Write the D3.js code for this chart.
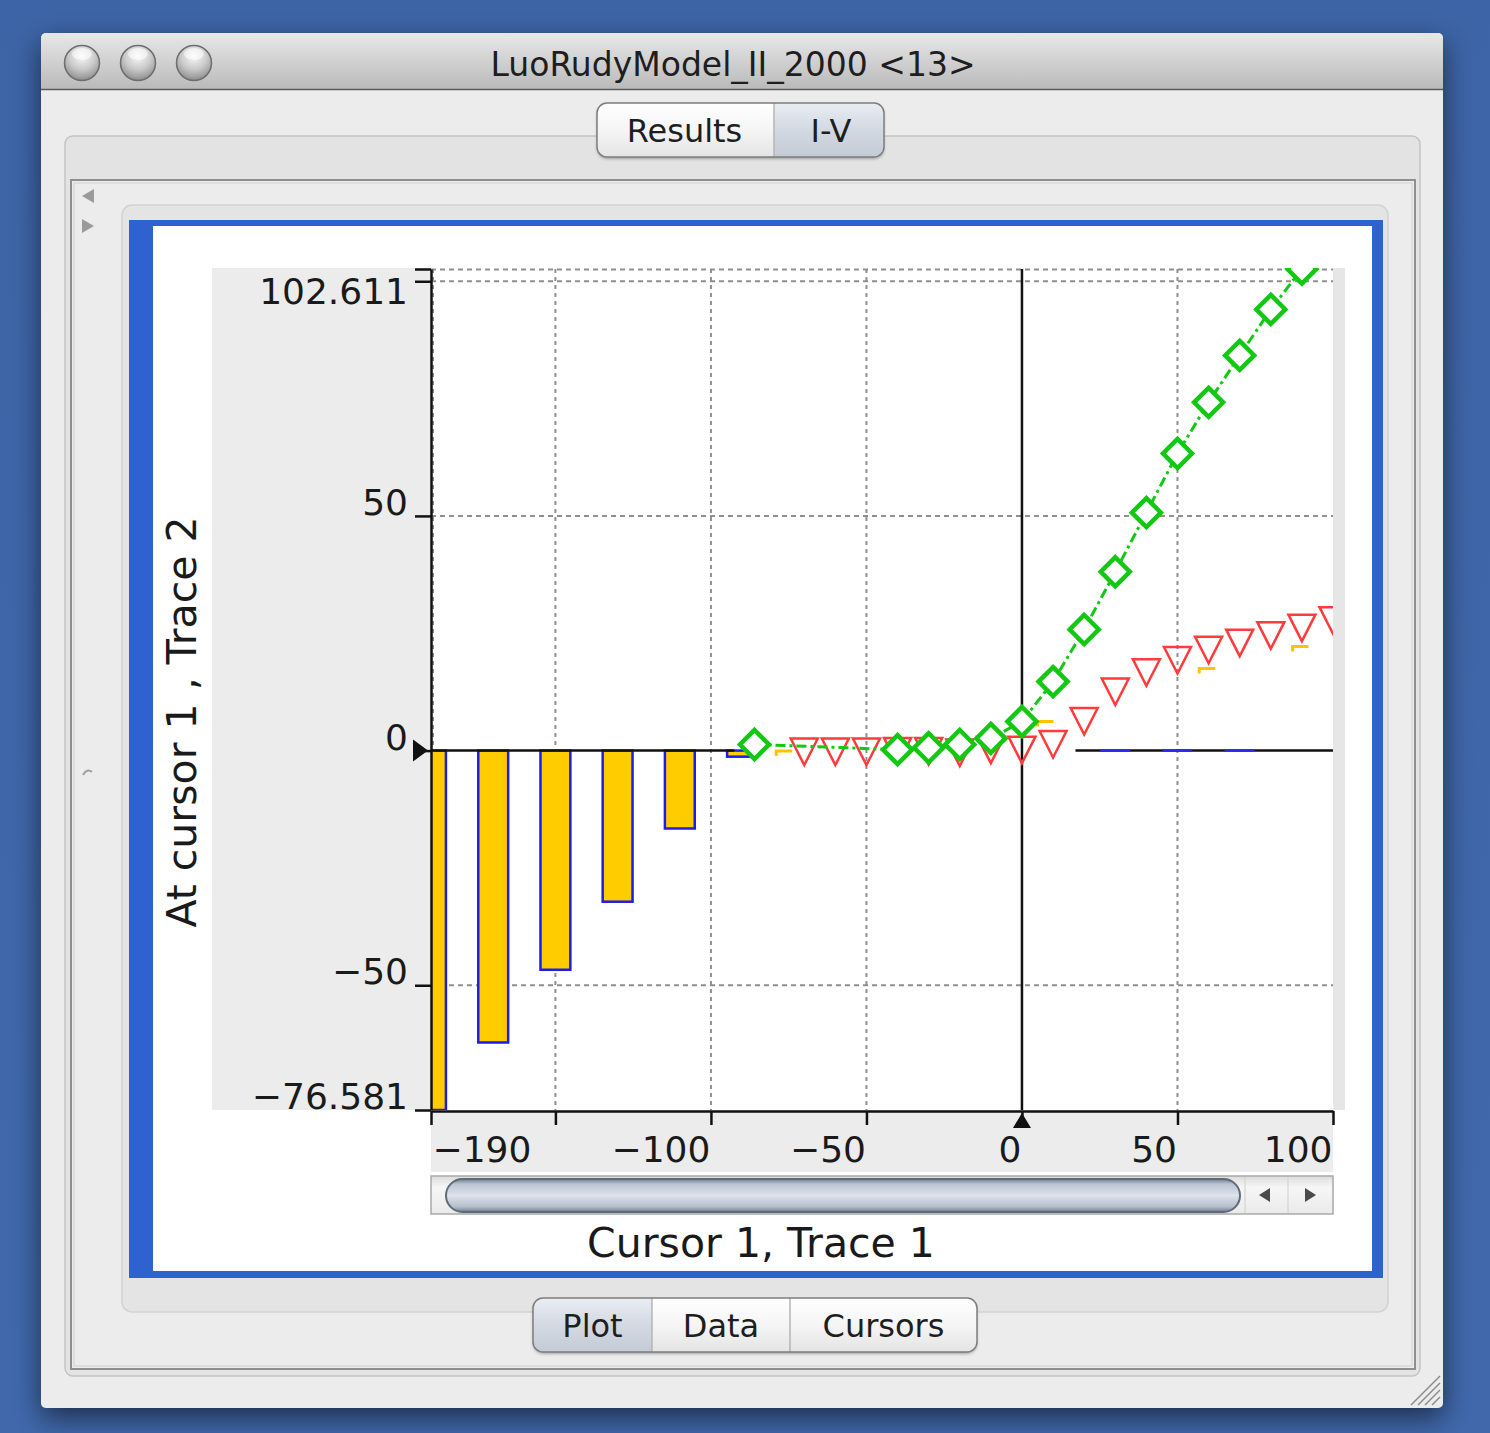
<!DOCTYPE html>
<html>
<head>
<meta charset="utf-8">
<script src="https://cdn.jsdelivr.net/npm/d3@7"></script>
<style>
  html, body { margin: 0; padding: 0; background: #3f67a9; }
  svg { display: block; font-family: "DejaVu Sans", Verdana, sans-serif; }
</style>
</head>
<body>
<svg id="chart" width="1490" height="1433"></svg>
<script>
// ---------- axis definitions ----------
const xDomain = [-190, 100];
const yDomain = [-76.581, 102.611];
const xTicks = [-190, -150, -100, -50, 0, 50, 100];
const xTickLabels = ["\u2212190", "", "\u2212100", "\u221250", "0", "50", "100"];
const yTicks = [-76.581, -50, 0, 50, 100, 102.611];
const yTickLabels = ["\u221276.581", "\u221250", "0", "50", "", "102.611"];
const xGridValues = [-190, -150, -100, -50, 50];
const yGridValues = [-50, 50, 100, 102.611];

// ---------- series ----------
// bar series (orange with blue outline)
const barX = [-190, -170, -150, -130, -110, -90, 30, 50, 70];
const barY = [-76.581, -62.2, -46.7, -32.2, -16.6, -1.3, 0, 0, 0];

// green diamonds joined by a dash-dot line
const diamondX = [-86, -40, -30, -20, -10, 0, 10, 20, 30, 40, 50, 60, 70, 80, 90];
const diamondY = [1.3, 0.2, 0.6, 1.3, 2.6, 6.2, 14.7, 25.8, 38.1, 50.7, 63.3, 74.2, 84.2, 94.0, 102.611];

// red open down-triangles
const triangleX = [-70, -60, -50, -40, -30, -20, -10, 0, 10, 20, 30, 40, 50, 60, 70, 80, 90, 100];
const triangleY = [-0.1, -0.1, -0.1, 0, 0, -0.3, 0.3, 0.3, 1.5, 6.4, 12.7, 16.8, 19.4, 21.6, 23.1, 24.7, 26.3, 27.9];

// small yellow fragments of a fourth trace
const fragmentX = [-79, 5, 57, 87];
const fragmentY = [-0.1, 6.2, 17.5, 22.2];

// zero line is drawn where it is not covered
const baselineSpans = [[-190, -92.5], [17.2, 100]];
const cursorX = 0;
const cursorY = 0;

// ---------- setup ----------
const svg = d3.select("#chart");
const defs = svg.append("defs");

function linearGrad(id, stops, vertical = true) {
  const g = defs.append("linearGradient").attr("id", id)
    .attr("x1", 0).attr("y1", 0).attr("x2", vertical ? 0 : 1).attr("y2", vertical ? 1 : 0);
  stops.forEach(([o, c]) => g.append("stop").attr("offset", o).attr("stop-color", c));
}
linearGrad("titleGrad", [[0, "#e8e8e8"], [1, "#b9b9b9"]]);
linearGrad("tabPlain", [[0, "#ffffff"], [0.5, "#f5f5f5"], [1, "#e4e4e4"]]);
linearGrad("tabSel", [[0, "#e9edf3"], [0.5, "#d3d9e2"], [1, "#c3cbd6"]]);
linearGrad("thumbGrad", [[0, "#6f7b8e"], [0.15, "#b9c3d0"], [0.5, "#dde3eb"], [0.85, "#b3bdca"], [1, "#6d798c"]]);
linearGrad("trackGrad", [[0, "#dcdcdc"], [0.3, "#f6f6f6"], [1, "#eaeaea"]]);
linearGrad("deskGrad", [[0, "#3d64a6"], [1, "#4068ab"]]);

const rg = defs.append("radialGradient").attr("id", "btnGrad")
  .attr("cx", "50%").attr("cy", "30%").attr("r", "70%");
rg.append("stop").attr("offset", 0).attr("stop-color", "#fbfbfb");
rg.append("stop").attr("offset", 0.55).attr("stop-color", "#c9c9c9");
rg.append("stop").attr("offset", 1).attr("stop-color", "#8d8d8d");

const shadow = defs.append("filter").attr("id", "winShadow")
  .attr("x", "-10%").attr("y", "-10%").attr("width", "120%").attr("height", "120%");
shadow.append("feDropShadow").attr("dx", 0).attr("dy", 10).attr("stdDeviation", 14)
  .attr("flood-color", "#000").attr("flood-opacity", 0.55);

const tabShadow = defs.append("filter").attr("id", "tabShadow")
  .attr("x", "-10%").attr("y", "-20%").attr("width", "120%").attr("height", "150%");
tabShadow.append("feDropShadow").attr("dx", 0).attr("dy", 2).attr("stdDeviation", 1.5)
  .attr("flood-color", "#000").attr("flood-opacity", 0.3);

// ---------- desktop & window ----------
svg.append("rect").attr("width", 1490).attr("height", 1433).attr("fill", "url(#deskGrad)");

svg.append("rect").attr("x", 41).attr("y", 33).attr("width", 1402).attr("height", 1375)
  .attr("rx", 5).attr("fill", "#ececec").attr("filter", "url(#winShadow)");

// title bar
svg.append("path")
  .attr("d", "M41,90 L41,39 Q41,33 47,33 L1437,33 Q1443,33 1443,39 L1443,90 Z")
  .attr("fill", "url(#titleGrad)");
svg.append("line").attr("x1", 41).attr("x2", 1443).attr("y1", 89.5).attr("y2", 89.5)
  .attr("stroke", "#5c5c5c").attr("stroke-width", 1.5);

[82, 138, 194].forEach(cx => {
  svg.append("circle").attr("cx", cx).attr("cy", 63).attr("r", 17.5)
    .attr("fill", "url(#btnGrad)").attr("stroke", "#6e6e6e").attr("stroke-width", 1.5);
  svg.append("ellipse").attr("cx", cx).attr("cy", 54).attr("rx", 10).attr("ry", 6)
    .attr("fill", "#ffffff").attr("opacity", 0.55);
});

svg.append("text").attr("x", 733).attr("y", 76).attr("text-anchor", "middle")
  .attr("font-size", 33).attr("fill", "#1e1e1e").text("LuoRudyModel_II_2000 <13>");

// tab group box
svg.append("rect").attr("x", 65).attr("y", 136).attr("width", 1355).attr("height", 1240)
  .attr("rx", 8).attr("fill", "#e3e3e3").attr("stroke", "#c4c4c4").attr("stroke-width", 1.5);

// inner scroll pane box
svg.append("rect").attr("x", 71).attr("y", 180).attr("width", 1344).attr("height", 1189)
  .attr("fill", "#ececec").attr("stroke", "#8e8e8e").attr("stroke-width", 2);
svg.append("rect").attr("x", 74).attr("y", 183).attr("width", 1338).attr("height", 1183)
  .attr("fill", "none").attr("stroke", "#d0d0d0").attr("stroke-width", 1);

// splitter arrows
svg.append("path").attr("d", "M82,196 L94,189 L94,203 Z").attr("fill", "#9a9a9a");
svg.append("path").attr("d", "M94,226 L82,219 L82,233 Z").attr("fill", "#9a9a9a");
svg.append("path").attr("d", "M83,775 Q87,768 92,772").attr("fill", "none")
  .attr("stroke", "#a0a0a0").attr("stroke-width", 2);

// rounded panel holding the chart
svg.append("rect").attr("x", 122).attr("y", 205).attr("width", 1266).attr("height", 1107)
  .attr("rx", 10).attr("fill", "#e4e4e4").attr("stroke", "#d2d2d2").attr("stroke-width", 1.5);

// blue chart frame
svg.append("rect").attr("x", 129).attr("y", 220).attr("width", 1254).attr("height", 1058)
  .attr("fill", "#2f61cf");
svg.append("rect").attr("x", 153).attr("y", 226).attr("width", 1219).attr("height", 1045)
  .attr("fill", "#ffffff");

// ---------- chart ----------
const x = d3.scaleLinear().domain(xDomain).range([431, 1333]);
const y = d3.scaleLinear().domain(yDomain).range([1110, 269]);
const [px0, px1] = x.range();
const [py1, py0] = y.range();

// axis panels
svg.append("rect").attr("x", 212).attr("y", py0 - 1).attr("width", px0 - 212).attr("height", py1 - py0 + 1)
  .attr("fill", "#ececec");
svg.append("rect").attr("x", px0).attr("y", py1).attr("width", px1 - px0).attr("height", 62)
  .attr("fill", "#ececec");
svg.append("rect").attr("x", px1).attr("y", py0 - 1).attr("width", 12).attr("height", py1 - py0 + 1)
  .attr("fill", "#e6e6e6");

defs.append("clipPath").attr("id", "plotClip").append("rect")
  .attr("x", px0).attr("y", py0 - 1).attr("width", px1 - px0).attr("height", py1 - py0 + 1);

const plot = svg.append("g").attr("clip-path", "url(#plotClip)");

// dotted grid
plot.selectAll(".vgrid").data(xGridValues).join("line").attr("class", "vgrid")
  .attr("x1", d => x(d) + (d === xDomain[0] ? 2 : 0)).attr("x2", d => x(d) + (d === xDomain[0] ? 2 : 0))
  .attr("y1", py0).attr("y2", py1)
  .attr("stroke", "#8f8f8f").attr("stroke-width", 2).attr("stroke-dasharray", "4,4");
plot.selectAll(".hgrid").data(yGridValues).join("line").attr("class", "hgrid")
  .attr("x1", px0).attr("x2", px1)
  .attr("y1", d => y(d) + (d === yDomain[1] ? 0.5 : 0)).attr("y2", d => y(d) + (d === yDomain[1] ? 0.5 : 0))
  .attr("stroke", "#8f8f8f").attr("stroke-width", 2).attr("stroke-dasharray", "5,4");

// bars
const barHalf = 4.8;
const bars = barX.map((v, i) => ({ x: v, y: barY[i] }));
plot.selectAll(".bar").data(bars).join("rect").attr("class", "bar")
  .attr("x", d => x(d.x - barHalf))
  .attr("width", d => x(d.x + barHalf) - x(d.x - barHalf))
  .attr("y", d => Math.min(y(0), y(d.y)))
  .attr("height", d => Math.abs(y(d.y) - y(0)))
  .attr("fill", "#ffcc00").attr("stroke", "#1c1cf0").attr("stroke-width", 2.5);

// zero line
plot.selectAll(".zero").data(baselineSpans).join("line").attr("class", "zero")
  .attr("x1", d => x(d[0])).attr("x2", d => x(d[1]))
  .attr("y1", y(0)).attr("y2", y(0))
  .attr("stroke", "#111").attr("stroke-width", 2.5);

// blue top edges on zero-height bars
plot.selectAll(".barFlat").data(bars.filter(d => d.y === 0)).join("line").attr("class", "barFlat")
  .attr("x1", d => x(d.x - barHalf)).attr("x2", d => x(d.x + barHalf))
  .attr("y1", y(0)).attr("y2", y(0))
  .attr("stroke", "#2a2af0").attr("stroke-width", 2.5);

// cursor vertical line
plot.append("line").attr("x1", x(cursorX)).attr("x2", x(cursorX)).attr("y1", py0).attr("y2", py1)
  .attr("stroke", "#111").attr("stroke-width", 2.5);

// yellow fragments
const frags = fragmentX.map((v, i) => ({ x: v, y: fragmentY[i] }));
plot.selectAll(".frag").data(frags).join("path").attr("class", "frag")
  .attr("d", d => `M${x(d.x)},${y(d.y) + 5} L${x(d.x)},${y(d.y)} L${x(d.x) + 16},${y(d.y)}`)
  .attr("fill", "none").attr("stroke", "#ffc400").attr("stroke-width", 3);

// red triangles
const tris = triangleX.map((v, i) => ({ x: v, y: triangleY[i] }));
plot.selectAll(".tri").data(tris).join("path").attr("class", "tri")
  .attr("transform", d => `translate(${x(d.x)},${y(d.y)})`)
  .attr("d", "M-13.5,-12.5 L13.5,-12.5 L0,14 Z")
  .attr("fill", "none").attr("stroke", "#ff3b3b").attr("stroke-width", 2.5);

// green dash-dot line
const dia = diamondX.map((v, i) => ({ x: v, y: diamondY[i] }));
plot.append("path").datum(dia)
  .attr("d", d3.line().x(d => x(d.x)).y(d => y(d.y)))
  .attr("fill", "none").attr("stroke", "#12c812").attr("stroke-width", 3)
  .attr("stroke-dasharray", "10,4,3,4");

// green diamonds
plot.selectAll(".dia").data(dia).join("path").attr("class", "dia")
  .attr("transform", d => `translate(${x(d.x)},${y(d.y)})`)
  .attr("d", "M0,-14.5 L14.5,0 L0,14.5 L-14.5,0 Z")
  .attr("fill", "#ffffff").attr("stroke", "#12c812").attr("stroke-width", 4.5);

// axes
const yAxis = d3.axisLeft(y).tickValues(yTicks).tickFormat((d, i) => yTickLabels[i])
  .tickSize(16).tickSizeOuter(0).tickPadding(6);
const gy = svg.append("g").attr("transform", `translate(${px0},0)`).call(yAxis);
gy.select(".domain").attr("stroke", "#111").attr("stroke-width", 2.5);
gy.selectAll(".tick line").attr("stroke", "#111").attr("stroke-width", 2.5);
gy.selectAll(".tick text")
  .attr("font-size", 36).attr("fill", "#1a1a1a").attr("font-family", "DejaVu Sans")
  .attr("x", -23)
  .attr("dy", d => d === yDomain[1] ? "0.95em" : (d === 0 ? "-0.02em" : "-0.04em"));

const xAxis = d3.axisBottom(x).tickValues(xTicks).tickFormat((d, i) => xTickLabels[i])
  .tickSize(14).tickSizeOuter(0).tickPadding(4);
const gx = svg.append("g").attr("transform", `translate(0,${py1 + 1})`).call(xAxis);
gx.select(".domain").attr("stroke", "#111").attr("stroke-width", 2.5);
gx.selectAll(".tick line").attr("stroke", "#111").attr("stroke-width", 2.5);
gx.selectAll(".tick text")
  .attr("font-size", 36).attr("fill", "#1a1a1a").attr("font-family", "DejaVu Sans")
  .attr("text-anchor", d => d === xDomain[0] ? "start" : "end")
  .attr("x", d => d === xDomain[0] ? 1 : -1)
  .attr("y", 51).attr("dy", 0);

// cursor markers on the axes
svg.append("path")
  .attr("transform", `translate(${x(cursorX)},${py1 + 3})`)
  .attr("d", "M0,0 L9,15 L-9,15 Z").attr("fill", "#111");
svg.append("path")
  .attr("transform", `translate(${px0 - 3},${y(cursorY)})`)
  .attr("d", "M0,0 L-15,-11 L-15,11 Z").attr("fill", "#111");

// axis titles
svg.append("text").attr("x", 761).attr("y", 1257).attr("text-anchor", "middle")
  .attr("font-size", 41).attr("fill", "#1a1a1a").text("Cursor 1, Trace 1");
svg.append("text").attr("transform", "translate(196,722) rotate(-90)").attr("text-anchor", "middle")
  .attr("font-size", 41).attr("fill", "#1a1a1a").text("At cursor 1 , Trace 2");

// ---------- horizontal scrollbar ----------
svg.append("rect").attr("x", px0).attr("y", 1176).attr("width", px1 - px0).attr("height", 38)
  .attr("fill", "url(#trackGrad)").attr("stroke", "#a9a9a9").attr("stroke-width", 1.5);
svg.append("rect").attr("x", 446).attr("y", 1179).attr("width", 794).attr("height", 33)
  .attr("rx", 16.5).attr("fill", "url(#thumbGrad)").attr("stroke", "#5f6a7b").attr("stroke-width", 2);
svg.append("line").attr("x1", 1245).attr("x2", 1245).attr("y1", 1177).attr("y2", 1213).attr("stroke", "#cfcfcf");
svg.append("line").attr("x1", 1288).attr("x2", 1288).attr("y1", 1177).attr("y2", 1213).attr("stroke", "#cfcfcf");
svg.append("path").attr("d", "M1259,1195 L1270,1188 L1270,1202 Z").attr("fill", "#4a4a4a");
svg.append("path").attr("d", "M1316,1195 L1305,1188 L1305,1202 Z").attr("fill", "#4a4a4a");

// ---------- segmented tab controls ----------
function segmented(x0, y0, h, segs) {
  const total = d3.sum(segs, s => s.w);
  const g = svg.append("g");
  defs.append("clipPath").attr("id", `seg${x0}`).append("rect")
    .attr("x", x0).attr("y", y0).attr("width", total).attr("height", h).attr("rx", 10);
  g.append("rect").attr("x", x0).attr("y", y0).attr("width", total).attr("height", h)
    .attr("rx", 10).attr("fill", "#fff").attr("filter", "url(#tabShadow)");
  const inner = g.append("g").attr("clip-path", `url(#seg${x0})`);
  let cx = x0;
  segs.forEach((s, i) => {
    inner.append("rect").attr("x", cx).attr("y", y0).attr("width", s.w).attr("height", h)
      .attr("fill", s.sel ? "url(#tabSel)" : "url(#tabPlain)");
    if (i > 0) inner.append("line").attr("x1", cx).attr("x2", cx).attr("y1", y0).attr("y2", y0 + h)
      .attr("stroke", "#b5b5b5").attr("stroke-width", 1.5);
    g.append("text").attr("x", cx + s.w / 2 + (s.dx || 0)).attr("y", y0 + h / 2 + 12)
      .attr("text-anchor", "middle").attr("font-size", 32).attr("fill", "#1e1e1e").text(s.label);
    cx += s.w;
  });
  g.append("rect").attr("x", x0).attr("y", y0).attr("width", total).attr("height", h)
    .attr("rx", 10).attr("fill", "none").attr("stroke", "#7d7d7d").attr("stroke-width", 1.5);
}
segmented(597, 103, 54, [
  { label: "Results", w: 177, dx: -1 },
  { label: "I-V", w: 110, sel: true, dx: 2 }
]);
segmented(533, 1298, 54, [
  { label: "Plot", w: 119, sel: true },
  { label: "Data", w: 138 },
  { label: "Cursors", w: 187 }
]);

// resize grip
[0, 1, 2, 3].forEach(i => {
  const o = 8 + i * 7;
  svg.append("line").attr("x1", 1440 - o).attr("y1", 1405).attr("x2", 1440).attr("y2", 1405 - o)
    .attr("stroke", "#8a8a8a").attr("stroke-width", 1.5);
});
</script>
</body>
</html>
